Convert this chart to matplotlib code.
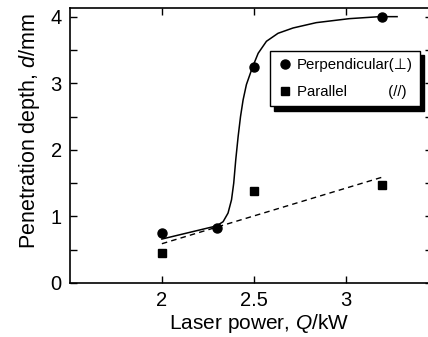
"""
Penetration depth vs laser power
"""

# imports
import matplotlib
matplotlib.use("Agg")
import matplotlib.pyplot as plt
from matplotlib.ticker import MultipleLocator

plt.rcParams['font.family'] = ['Liberation Sans', 'DejaVu Sans']
plt.rcParams['mathtext.fontset'] = 'custom'
plt.rcParams['mathtext.rm'] = 'Liberation Sans'
plt.rcParams['mathtext.it'] = 'Liberation Sans:italic'

# data
perp_power = [2.0, 2.3, 2.5, 3.2]
perp_depth = [0.75, 0.83, 3.25, 4.0]
para_power = [2.0, 2.5, 3.2]
para_depth = [0.45, 1.38, 1.47]

# hand-drawn guide curve for perpendicular points
curve_power = [2.0, 2.297, 2.333, 2.360, 2.379, 2.391, 2.402, 2.415, 2.428,
               2.442, 2.460, 2.493, 2.524, 2.569, 2.632, 2.714, 2.84, 3.02,
               3.185, 3.28]
curve_depth = [0.66, 0.857, 0.92, 1.05, 1.25, 1.50, 1.85, 2.20, 2.50,
               2.75, 2.98, 3.24, 3.45, 3.63, 3.75, 3.83, 3.91, 3.97,
               4.0, 4.0]

# linear trend for parallel points
trend_power = [2.0, 3.2]
trend_depth = [0.59, 1.59]


def beautify_ax(ax):
    """
    Inward ticks on all four sides.
    """
    ax.tick_params(which='both', direction='in', top=True, right=True,
                   width=1.0, labelsize=14.5, pad=6)
    ax.tick_params(which='major', length=5)
    ax.tick_params(which='minor', length=5)
    for sp in ax.spines.values():
        sp.set_linewidth(1.2)


fig = plt.figure(figsize=(4.28, 3.37), dpi=100)
ax = fig.add_axes([70 / 428, 54 / 337, 362 / 428, 275 / 337])

ax.plot(curve_power, curve_depth, color='black', lw=1.1)
ax.plot(trend_power, trend_depth, color='black', lw=1.0, ls=(0, (4, 3)))
ax.plot(perp_power, perp_depth, 'o', color='black', ms=6.5,
        label='Perpendicular(\u22a5)')
ax.plot(para_power, para_depth, 's', color='black', ms=6,
        label='Parallel          (//)')

ax.set_xlim(1.5, 3.47)
ax.set_ylim(0, 4.13)
ax.set_xticks([2, 2.5, 3])
ax.set_xticklabels(['2', '2.5', '3'])
ax.yaxis.set_major_locator(MultipleLocator(1))
ax.yaxis.set_minor_locator(MultipleLocator(0.5))
beautify_ax(ax)

ax.set_xlabel('Laser power, $Q$/kW', fontsize=15, labelpad=2)
ax.set_ylabel('Penetration depth, $d$/mm', fontsize=15.5, labelpad=5)
ax.xaxis.set_label_coords(0.522, -0.105)
ax.yaxis.set_label_coords(-0.077, 0.553)

leg = ax.legend(loc='upper left', bbox_to_anchor=(0.552, 0.845),
                borderaxespad=0, fancybox=False, edgecolor='black',
                framealpha=1, fontsize=10.8, handletextpad=0.3,
                handlelength=1.0, borderpad=0.5, labelspacing=0.85,
                shadow={'color': 'black', 'alpha': 1, 'ox': 3, 'oy': -3})
leg.get_frame().set_linewidth(1.0)

fig.savefig('out.png', dpi=100)
